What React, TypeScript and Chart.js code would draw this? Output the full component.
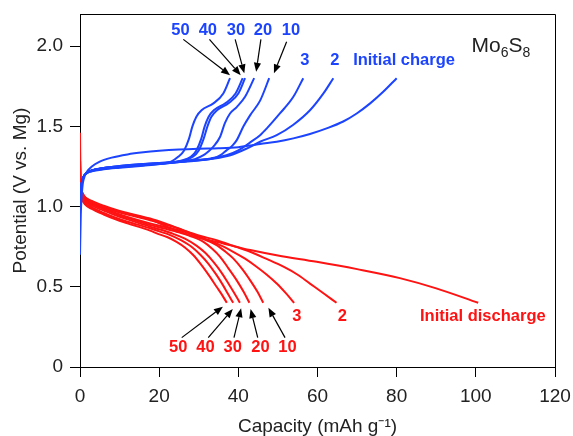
import React, { useEffect, useRef } from "react";
import { Chart, registerables } from "chart.js";

Chart.register(...registerables);

// ---------- tick labels ----------
const xTicks = [0, 20, 40, 60, 80, 100, 120];
const yTicks = [0, 0.5, 1.0, 1.5, 2.0];

// ---------- charge curves (capacity mAh/g, potential V) ----------
const chargeInitialCap = [0, 0.2, 0.6, 1.2, 2, 3, 5, 8, 12, 16, 20, 25, 30, 35, 40, 43, 45.5, 49.7, 53.9, 58.1, 62.3, 66.5, 69.9, 73.3, 76.6, 80];
const chargeInitialV = [0.70, 0.95, 1.12, 1.19, 1.225, 1.25, 1.28, 1.305, 1.325, 1.338, 1.347, 1.355, 1.36, 1.363, 1.37, 1.38, 1.39, 1.404, 1.425, 1.452, 1.487, 1.53, 1.58, 1.643, 1.715, 1.80];

const charge2Cap = [0, 0.3, 0.8, 1.5, 3, 6, 10, 16, 22, 28, 34, 38, 42, 45.5, 49.7, 53.9, 58.1, 61.5, 64];
const charge2V = [1.02, 1.12, 1.18, 1.205, 1.225, 1.24, 1.252, 1.265, 1.275, 1.285, 1.30, 1.32, 1.36, 1.404, 1.445, 1.51, 1.60, 1.705, 1.80];

const charge3Cap = [0, 0.3, 0.8, 1.5, 3, 6, 10, 16, 22, 28, 33, 37, 40, 43, 45.5, 47.2, 50.5, 53.9, 56.4];
const charge3V = [1.02, 1.12, 1.18, 1.205, 1.225, 1.24, 1.252, 1.265, 1.275, 1.287, 1.30, 1.32, 1.35, 1.40, 1.445, 1.487, 1.58, 1.684, 1.80];

const charge10Cap = [0, 0.3, 0.8, 1.5, 3, 6, 10, 16, 22, 28, 31, 33.7, 35.5, 37, 38.5, 39.6, 41.3, 43, 45.5, 47.8];
const charge10V = [1.00, 1.12, 1.18, 1.205, 1.225, 1.24, 1.25, 1.262, 1.272, 1.282, 1.29, 1.30, 1.32, 1.35, 1.38, 1.414, 1.50, 1.57, 1.66, 1.80];

const charge20Cap = [0, 0.3, 0.8, 1.5, 3, 6, 10, 16, 22, 26, 29, 31.2, 32.5, 33.7, 35.4, 36.6, 37.9, 39.6, 41.7, 44];
const charge20V = [1.00, 1.12, 1.18, 1.205, 1.225, 1.238, 1.248, 1.26, 1.27, 1.28, 1.295, 1.32, 1.345, 1.373, 1.435, 1.52, 1.58, 1.62, 1.684, 1.80];

const charge30Cap = [0, 0.3, 0.8, 1.5, 3, 6, 10, 16, 22, 26, 28.5, 30, 31.2, 32.2, 33.2, 34.6, 37.6, 40, 41.7];
const charge30V = [1.00, 1.12, 1.18, 1.205, 1.225, 1.238, 1.248, 1.26, 1.272, 1.285, 1.31, 1.35, 1.42, 1.50, 1.56, 1.60, 1.645, 1.705, 1.80];

const charge40Cap = [0, 0.3, 0.8, 1.5, 3, 6, 10, 16, 22, 25.5, 28, 29.4, 30.6, 31.5, 32.5, 33.8, 36.8, 39.3, 41.1];
const charge40V = [1.00, 1.12, 1.18, 1.205, 1.222, 1.235, 1.245, 1.258, 1.27, 1.285, 1.31, 1.35, 1.42, 1.50, 1.56, 1.60, 1.645, 1.705, 1.80];

const charge50Cap = [0, 0.3, 0.8, 1.5, 3, 6, 10, 16, 20, 23, 24.8, 26.3, 27.5, 28.4, 29.4, 30.7, 33.7, 36.2, 37.9];
const charge50V = [1.00, 1.12, 1.18, 1.205, 1.22, 1.232, 1.242, 1.255, 1.265, 1.28, 1.31, 1.35, 1.42, 1.50, 1.56, 1.60, 1.643, 1.705, 1.80];

// ---------- discharge curves ----------
const dischargeInitialCap = [0, 0.15, 0.5, 1.2, 3, 6, 9, 12, 17.7, 22, 26.1, 30, 34.5, 38.5, 43, 50, 59.8, 70, 80.8, 90, 100.6];
const dischargeInitialV = [1.46, 1.15, 1.09, 1.06, 1.03, 1.0, 0.975, 0.955, 0.92, 0.875, 0.835, 0.805, 0.78, 0.755, 0.729, 0.695, 0.656, 0.61, 0.554, 0.49, 0.40];

const discharge2Cap = [0, 0.15, 0.5, 1.2, 3, 6, 9, 12, 17.7, 22, 26.1, 30, 34.5, 38.5, 43, 47, 51.4, 55, 58.1, 61.5, 64.8];
const discharge2V = [1.30, 1.14, 1.09, 1.06, 1.035, 1.005, 0.98, 0.96, 0.925, 0.89, 0.853, 0.82, 0.79, 0.757, 0.718, 0.675, 0.625, 0.575, 0.52, 0.46, 0.40];

const discharge3Cap = [0, 0.15, 0.5, 1.2, 3, 6, 9, 12, 17.7, 24, 30.3, 34.5, 38.7, 41.7, 44.6, 47.2, 49.7, 52, 54.1];
const discharge3V = [1.30, 1.13, 1.085, 1.055, 1.025, 0.995, 0.97, 0.95, 0.915, 0.87, 0.81, 0.77, 0.718, 0.675, 0.625, 0.575, 0.52, 0.46, 0.40];

const discharge10Cap = [0, 0.15, 0.5, 1.2, 3, 6, 9, 12, 17.7, 22, 27.8, 31, 34.5, 36.7, 38.7, 41, 43, 44.8, 46.3];
const discharge10V = [1.25, 1.12, 1.08, 1.05, 1.02, 0.99, 0.96, 0.935, 0.895, 0.87, 0.833, 0.80, 0.76, 0.72, 0.677, 0.61, 0.54, 0.47, 0.40];

const discharge20Cap = [0, 0.15, 0.5, 1.2, 3, 6, 9, 12, 17.7, 21, 24.4, 28, 31.2, 33.4, 35.4, 37.5, 39.6, 41.3, 42.8];
const discharge20V = [1.25, 1.11, 1.075, 1.045, 1.015, 0.985, 0.955, 0.93, 0.885, 0.865, 0.843, 0.815, 0.78, 0.737, 0.687, 0.615, 0.54, 0.47, 0.40];

const discharge30Cap = [0, 0.15, 0.5, 1.2, 3, 6, 9, 12, 17.7, 20.5, 23, 26.5, 29.5, 31.7, 33.7, 35.7, 37.5, 39, 40.4];
const discharge30V = [1.20, 1.10, 1.065, 1.035, 1.005, 0.975, 0.945, 0.92, 0.875, 0.855, 0.835, 0.80, 0.755, 0.71, 0.655, 0.59, 0.52, 0.46, 0.40];

const discharge40Cap = [0, 0.15, 0.5, 1.2, 3, 6, 9, 12, 17.7, 20, 22.5, 25.5, 28.4, 30.4, 32.4, 34.3, 36, 37.4, 38.7];
const discharge40V = [1.20, 1.09, 1.055, 1.025, 0.995, 0.96, 0.93, 0.905, 0.865, 0.845, 0.825, 0.79, 0.745, 0.70, 0.645, 0.58, 0.515, 0.455, 0.40];

const discharge50Cap = [0, 0.15, 0.5, 1.2, 3, 6, 9, 12, 17.7, 19.4, 22, 24.4, 26.5, 28.6, 30.7, 32.8, 34.5, 36, 37.1];
const discharge50V = [1.15, 1.08, 1.045, 1.015, 0.985, 0.95, 0.92, 0.895, 0.85, 0.833, 0.81, 0.78, 0.745, 0.698, 0.635, 0.563, 0.50, 0.445, 0.40];

const BLUE = "#1c44ff";
const RED = "#ff1212";

const chargeSeries = [
  { label: "Charge initial", cap: chargeInitialCap, v: chargeInitialV },
  { label: "Charge 2", cap: charge2Cap, v: charge2V },
  { label: "Charge 3", cap: charge3Cap, v: charge3V },
  { label: "Charge 10", cap: charge10Cap, v: charge10V },
  { label: "Charge 20", cap: charge20Cap, v: charge20V },
  { label: "Charge 30", cap: charge30Cap, v: charge30V },
  { label: "Charge 40", cap: charge40Cap, v: charge40V },
  { label: "Charge 50", cap: charge50Cap, v: charge50V },
];
const dischargeSeries = [
  { label: "Discharge initial", cap: dischargeInitialCap, v: dischargeInitialV },
  { label: "Discharge 2", cap: discharge2Cap, v: discharge2V },
  { label: "Discharge 3", cap: discharge3Cap, v: discharge3V },
  { label: "Discharge 10", cap: discharge10Cap, v: discharge10V },
  { label: "Discharge 20", cap: discharge20Cap, v: discharge20V },
  { label: "Discharge 30", cap: discharge30Cap, v: discharge30V },
  { label: "Discharge 40", cap: discharge40Cap, v: discharge40V },
  { label: "Discharge 50", cap: discharge50Cap, v: discharge50V },
];

// ---------- annotation texts (anchored in data coordinates) ----------
const chargeLabels = [
  { text: "50", x: 25.4, y: 2.095, align: "center" },
  { text: "40", x: 32.3, y: 2.095, align: "center" },
  { text: "30", x: 39.4, y: 2.095, align: "center" },
  { text: "20", x: 46.2, y: 2.095, align: "center" },
  { text: "10", x: 53.3, y: 2.095, align: "center" },
  { text: "3", x: 56.8, y: 1.908, align: "center" },
  { text: "2", x: 64.4, y: 1.908, align: "center" },
  { text: "Initial charge", x: 69.0, y: 1.908, align: "left" },
];
const dischargeLabels = [
  { text: "3", x: 54.8, y: 0.313, align: "center" },
  { text: "2", x: 66.3, y: 0.313, align: "center" },
  { text: "Initial discharge", x: 85.9, y: 0.313, align: "left" },
  { text: "50", x: 24.8, y: 0.12, align: "center" },
  { text: "40", x: 31.7, y: 0.12, align: "center" },
  { text: "30", x: 38.6, y: 0.12, align: "center" },
  { text: "20", x: 45.6, y: 0.12, align: "center" },
  { text: "10", x: 52.4, y: 0.12, align: "center" },
];
const arrows = [
  { x0: 26.1, y0: 2.042, x1: 37.9, y1: 1.819 },
  { x0: 32.7, y0: 2.042, x1: 40.6, y1: 1.819 },
  { x0: 39.2, y0: 2.042, x1: 41.5, y1: 1.830 },
  { x0: 45.7, y0: 2.042, x1: 44.5, y1: 1.840 },
  { x0: 52.2, y0: 2.027, x1: 49.0, y1: 1.830 },
  { x0: 25.7, y0: 0.183, x1: 36.1, y1: 0.376 },
  { x0: 32.4, y0: 0.183, x1: 38.6, y1: 0.361 },
  { x0: 38.9, y0: 0.183, x1: 40.7, y1: 0.366 },
  { x0: 44.9, y0: 0.183, x1: 43.1, y1: 0.361 },
  { x0: 51.8, y0: 0.183, x1: 47.6, y1: 0.369 },
];
const compound = { x: 98.9, y: 1.964, parts: [{ t: "Mo", sub: false }, { t: "6", sub: true }, { t: "S", sub: false }, { t: "8", sub: true }] };

const FONT = "'Liberation Sans', Arial, Helvetica, sans-serif";

const annotationPlugin = {
  id: "annotations",
  afterDraw(chart: any) {
    const { ctx, chartArea } = chart;
    const xs = chart.scales.x;
    const ys = chart.scales.y;
    ctx.save();
    // frame top & right
    ctx.strokeStyle = "#000";
    ctx.lineWidth = 1;
    ctx.beginPath();
    ctx.moveTo(chartArea.left, Math.round(chartArea.top) + 0.5);
    ctx.lineTo(Math.round(chartArea.right) + 0.5, Math.round(chartArea.top) + 0.5);
    ctx.lineTo(Math.round(chartArea.right) + 0.5, chartArea.bottom);
    ctx.stroke();

    // arrows
    ctx.strokeStyle = "#000";
    ctx.fillStyle = "#000";
    ctx.lineWidth = 1.2;
    for (const a of arrows) {
      const px0 = xs.getPixelForValue(a.x0);
      const py0 = ys.getPixelForValue(a.y0);
      const px1 = xs.getPixelForValue(a.x1);
      const py1 = ys.getPixelForValue(a.y1);
      const ang = Math.atan2(py1 - py0, px1 - px0);
      const hl = 9;
      const hw = 3.6;
      const bx = px1 - hl * Math.cos(ang);
      const by = py1 - hl * Math.sin(ang);
      ctx.beginPath();
      ctx.moveTo(px0, py0);
      ctx.lineTo(bx, by);
      ctx.stroke();
      ctx.beginPath();
      ctx.moveTo(px1, py1);
      ctx.lineTo(bx + hw * Math.sin(ang), by - hw * Math.cos(ang));
      ctx.lineTo(bx - hw * Math.sin(ang), by + hw * Math.cos(ang));
      ctx.closePath();
      ctx.fill();
    }

    // labels
    ctx.font = `bold 16.5px ${FONT}`;
    ctx.textBaseline = "middle";
    const drawLabels = (list: any[], color: string) => {
      ctx.fillStyle = color;
      for (const l of list) {
        ctx.textAlign = l.align;
        ctx.fillText(l.text, xs.getPixelForValue(l.x), ys.getPixelForValue(l.y));
      }
    };
    drawLabels(chargeLabels, BLUE);
    drawLabels(dischargeLabels, RED);

    // compound name with subscripts
    ctx.fillStyle = "#222";
    ctx.textAlign = "left";
    ctx.textBaseline = "alphabetic";
    let cx = xs.getPixelForValue(compound.x);
    const cy = ys.getPixelForValue(compound.y);
    for (const p of compound.parts) {
      ctx.font = p.sub ? `14px ${FONT}` : `21px ${FONT}`;
      ctx.fillText(p.t, cx, p.sub ? cy + 5.5 : cy);
      cx += ctx.measureText(p.t).width;
    }
    ctx.restore();
  },
};

export default function App() {
  const canvasRef = useRef<HTMLCanvasElement | null>(null);

  useEffect(() => {
    if (!canvasRef.current) return;
    const mk = (s: any, color: string) => ({
      label: s.label,
      data: s.cap.map((c: number, i: number) => ({ x: c, y: s.v[i] })),
      borderColor: color,
      backgroundColor: color,
      borderWidth: 2,
      pointRadius: 0,
      showLine: true,
      fill: false,
      cubicInterpolationMode: "monotone",
    });
    const datasets = [
      ...chargeSeries.map((s) => mk(s, BLUE)),
      ...dischargeSeries.map((s) => mk(s, RED)),
    ];
    const tickFont = { family: FONT, size: 19 };
    const chart = new Chart(canvasRef.current, {
      type: "scatter",
      data: { datasets },
      plugins: [annotationPlugin],
      options: {
        animation: false,
        responsive: false,
        maintainAspectRatio: false,
        layout: { padding: { left: 0, right: 18, top: 14, bottom: 0 } },
        plugins: {
          legend: { display: false },
          tooltip: { enabled: false },
        },
        scales: {
          x: {
            type: "linear",
            min: 0,
            max: 120,
            afterBuildTicks: (scale: any) => {
              scale.ticks = xTicks.map((v) => ({ value: v }));
            },
            afterFit: (scale: any) => {
              scale.height = 69;
              scale.paddingLeft = 0;
              scale.paddingRight = 0;
            },
            border: { display: true, color: "#000", width: 1 },
            grid: { drawOnChartArea: false, drawTicks: true, tickLength: 10, color: "#000" },
            ticks: {
              font: tickFont,
              color: "#222",
              padding: 8,
              maxRotation: 0,
              autoSkip: false,
              callback: (v: any) => String(v),
            },
            title: {
              display: true,
              text: "Capacity (mAh g\u207B\u00B9)",
              font: { family: FONT, size: 19, lineHeight: 1 },
              color: "#222",
              padding: { top: 0, bottom: 0 },
            },
          },
          y: {
            type: "linear",
            min: 0,
            max: 2.2,
            afterBuildTicks: (scale: any) => {
              scale.ticks = yTicks.map((v) => ({ value: v }));
            },
            afterFit: (scale: any) => {
              scale.width = 80;
              scale.paddingTop = 0;
              scale.paddingBottom = 0;
            },
            border: { display: true, color: "#000", width: 1 },
            grid: { drawOnChartArea: false, drawTicks: true, tickLength: 10, color: "#000" },
            ticks: {
              font: tickFont,
              color: "#222",
              padding: 7,
              autoSkip: false,
              callback: (v: any) => (v === 0 ? "0" : Number(v).toFixed(1)),
            },
            title: {
              display: true,
              text: "Potential (V vs. Mg)",
              font: { family: FONT, size: 19, lineHeight: 1 },
              color: "#222",
              padding: { top: 11.5, bottom: 0 },
            },
          },
        },
      } as any,
    });
    return () => chart.destroy();
  }, []);

  return (
    <div style={{ position: "absolute", left: 0, top: 0, width: 573, height: 436, background: "#fff" }}>
      <canvas ref={canvasRef} width={573} height={436} style={{ display: "block" }} />
    </div>
  );
}
